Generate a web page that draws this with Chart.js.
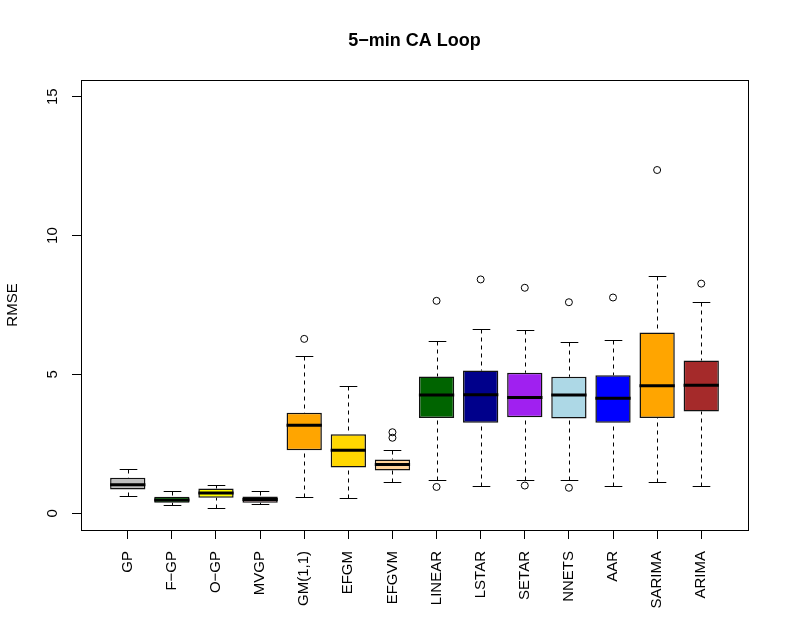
<!DOCTYPE html>
<html>
<head>
<meta charset="utf-8">
<script src="https://cdn.jsdelivr.net/npm/chart.js@4.4.1/dist/chart.umd.min.js"></script>
<style>
  html, body { margin: 0; padding: 0; background: #fff; }
  canvas { display: block; }
</style>
</head>
<body>
<canvas id="boxChart" width="789" height="630"></canvas>
<script>
const categories = ['GP', 'F\u2212GP', 'O\u2212GP', 'MVGP', 'GM(1,1)', 'EFGM', 'EFGVM', 'LINEAR', 'LSTAR', 'SETAR', 'NNETS', 'AAR', 'SARIMA', 'ARIMA'];
const lowerWhisker = [0.62, 0.31, 0.19, 0.32, 0.58, 0.55, 1.13, 1.19, 0.98, 1.19, 1.19, 1.00, 1.14, 0.97];
const q1 = [0.86, 0.38, 0.56, 0.38, 2.27, 1.65, 1.54, 3.43, 3.26, 3.46, 3.41, 3.26, 3.43, 3.67];
const median = [1.03, 0.48, 0.73, 0.50, 3.17, 2.27, 1.76, 4.26, 4.27, 4.17, 4.26, 4.14, 4.59, 4.61];
const q3 = [1.28, 0.60, 0.89, 0.61, 3.62, 2.85, 1.94, 4.93, 5.14, 5.06, 4.92, 4.97, 6.51, 5.50];
const upperWhisker = [1.58, 0.80, 1.01, 0.80, 5.65, 4.60, 2.27, 6.20, 6.64, 6.61, 6.15, 6.25, 8.56, 7.60];
const outliers = [[], [], [], [], [6.28], [], [2.72, 2.92], [7.65, 0.95], [8.42], [8.12, 1.00], [7.60, 0.92], [7.77], [12.36], [8.27]];
const yTicks = [0, 5, 10, 15];

const boxColors = ['#bebebe', '#00b400', '#ffff00', '#ffc0cb', '#ffa500', '#ffd700', '#ffd39b',
                   '#006400', '#00008b', '#a020f0', '#add8e6', '#0000ff', '#ffa500', '#a52a2a'];

const fontFamily = '"Liberation Sans", Arial, Helvetica, sans-serif';

const boxData = categories.map((c, i) => ({ x: i + 1, y: [q1[i], q3[i]] }));
const outlierData = [];
outliers.forEach((list, i) => {
    list.forEach(v => outlierData.push({ x: i + 1, y: v }));
});

// whiskers, caps, medians and the frame, placed through the chart scales
const boxParts = {
    id: 'boxParts',
    beforeDatasetsDraw(chart) {
        const ctx = chart.ctx;
        const xs = chart.scales.x, ys = chart.scales.y;
        const bars = chart.getDatasetMeta(0).data;
        ctx.save();
        ctx.strokeStyle = '#000';
        ctx.lineWidth = 1;
        categories.forEach((c, i) => {
            const x = Math.round(xs.getPixelForValue(i + 1)) + 0.5;
            const half = bars[i].width / 4;
            const segs = [[q3[i], upperWhisker[i]], [q1[i], lowerWhisker[i]]];
            segs.forEach(([from, to]) => {
                const yFrom = ys.getPixelForValue(from);
                const yTo = Math.round(ys.getPixelForValue(to)) + 0.5;
                ctx.setLineDash([4, 4]);
                ctx.beginPath();
                ctx.moveTo(x, yTo);
                ctx.lineTo(x, yFrom);
                ctx.stroke();
                ctx.setLineDash([]);
                ctx.beginPath();
                ctx.moveTo(x - half, yTo);
                ctx.lineTo(x + half, yTo);
                ctx.stroke();
            });
        });
        ctx.restore();
    },
    afterDatasetsDraw(chart) {
        const ctx = chart.ctx;
        const xs = chart.scales.x, ys = chart.scales.y;
        const bars = chart.getDatasetMeta(0).data;
        ctx.save();
        ctx.strokeStyle = '#000';
        ctx.lineWidth = 3;
        categories.forEach((c, i) => {
            const x = xs.getPixelForValue(i + 1);
            const half = bars[i].width / 2;
            const y = ys.getPixelForValue(median[i]);
            ctx.beginPath();
            ctx.moveTo(x - half, y);
            ctx.lineTo(x + half, y);
            ctx.stroke();
        });
        ctx.restore();
    },
    afterDraw(chart) {
        const a = chart.chartArea;
        const ctx = chart.ctx;
        ctx.save();
        ctx.strokeStyle = '#000';
        ctx.lineWidth = 1;
        ctx.strokeRect(Math.round(a.left) + 0.5, Math.round(a.top) + 0.5,
                       Math.round(a.right - a.left), Math.round(a.bottom - a.top));
        ctx.restore();
    }
};

new Chart(document.getElementById('boxChart').getContext('2d'), {
    type: 'bar',
    data: {
        datasets: [
            {
                data: boxData,
                backgroundColor: boxColors,
                borderColor: '#111',
                borderWidth: 1.5,
                borderSkipped: false,
                barPercentage: 0.8,
                categoryPercentage: 1.0,
                order: 1
            },
            {
                type: 'scatter',
                data: outlierData,
                pointStyle: 'circle',
                pointRadius: 3.5,
                pointBorderWidth: 1,
                borderColor: '#000',
                backgroundColor: 'rgba(0,0,0,0)',
                order: 0
            }
        ]
    },
    options: {
        responsive: false,
        animation: false,
        layout: { padding: { left: 0, right: 41, top: 0, bottom: 0 } },
        plugins: {
            legend: { display: false },
            tooltip: { enabled: false },
            title: {
                display: true,
                text: '5\u2212min CA Loop',
                color: '#000',
                fullSize: false,
                font: { family: fontFamily, size: 18, weight: 'bold' },
                padding: { top: 30, bottom: 28.4 }
            }
        },
        scales: {
            x: {
                type: 'linear',
                offset: false,
                min: -0.06,
                max: 15.06,
                afterBuildTicks: (scale) => {
                    scale.ticks = categories.map((c, i) => ({ value: i + 1 }));
                },
                afterFit: (scale) => { scale.height = 100; },
                grid: { offset: false, drawOnChartArea: false, drawTicks: true, tickLength: 9, color: '#000' },
                border: { display: false },
                ticks: {
                    autoSkip: false,
                    minRotation: 90,
                    maxRotation: 90,
                    padding: 12,
                    color: '#000',
                    font: { family: fontFamily, size: 15 },
                    callback: (v) => categories[v - 1]
                }
            },
            y: {
                min: -0.6,
                max: 15.6,
                afterBuildTicks: (scale) => {
                    scale.ticks = yTicks.map(v => ({ value: v }));
                },
                afterFit: (scale) => { scale.width = 81; },
                grid: { drawOnChartArea: false, drawTicks: true, tickLength: 9, color: '#000' },
                border: { display: false },
                ticks: {
                    minRotation: 90,
                    maxRotation: 90,
                    crossAlign: 'center',
                    padding: 10.5,
                    color: '#000',
                    font: { family: fontFamily, size: 15 }
                },
                title: {
                    display: true,
                    text: 'RMSE',
                    color: '#000',
                    font: { family: fontFamily, size: 15 },
                    padding: { top: 4, bottom: 0 }
                }
            }
        }
    },
    plugins: [boxParts]
});
</script>
</body>
</html>
